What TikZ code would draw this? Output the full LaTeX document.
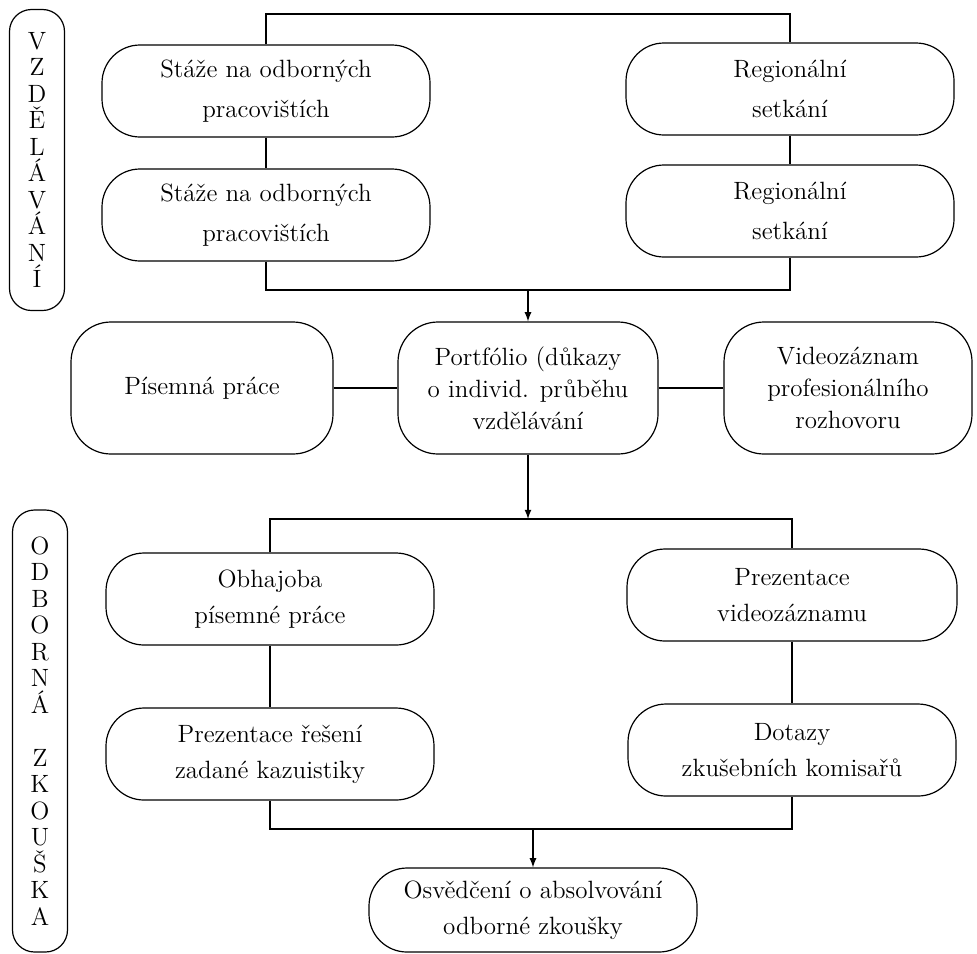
\documentclass[tikz,border=0pt]{standalone}
\usepackage{tikz}
\usetikzlibrary{arrows}

\begin{document}
\begin{tikzpicture}[x=0.5pt, y=-0.5pt, align=center, line width=0.6pt,
  font=\fontsize{12.5}{18}\selectfont,
  box/.style={draw, rounded corners=19pt, inner sep=0pt, minimum width=164pt, minimum height=46pt},
  topbox/.style={box, font=\fontsize{12.5}{20}\selectfont},
  bigbox/.style={draw, rounded corners=20pt, inner sep=0pt, minimum height=66pt, font=\fontsize{12.5}{16}\selectfont},
  sidebox/.style={draw, rounded corners=11pt, inner sep=0pt, minimum width=27.5pt, font=\fontsize{12.5}{13.25}\selectfont}]

\useasboundingbox (0,0) rectangle (977,953);

\path (37,160) node[sidebox, minimum height=150.5pt] (vzd) {V\\Z\\D\\Ě\\L\\Á\\V\\Á\\N\\Í}
      (40,731) node[sidebox, minimum height=221pt] (odb) {O\\D\\B\\O\\R\\N\\Á\\[13.25pt]Z\\K\\O\\U\\Š\\K\\A}

      (266,91) node[topbox] (st1) {Stáže na odborných\\pracovištích}
      (266,215) node[topbox] (st2) {Stáže na odborných\\pracovištích}
      (790,89) node[topbox] (reg1) {Regionální\\setkání}
      (790,211) node[topbox] (reg2) {Regionální\\setkání}

      (202,388) node[bigbox, minimum width=131pt] (pis) {Písemná práce}
      (528,388) node[bigbox, minimum width=130pt] (port) {Portfólio (důkazy\\o individ. průběhu\\vzdělávání}
      (848,388) node[bigbox, minimum width=124pt] (vid) {Videozáznam\\profesionálního\\rozhovoru}

      (270,599) node[box] (obh) {Obhajoba\\písemné práce}
      (270,754) node[box] (prez) {Prezentace řešení\\zadané kazuistiky}
      (792,595) node[box, minimum width=165pt] (pvid) {Prezentace\\videozáznamu}
      (792,750) node[box] (dot) {Dotazy\\zkušebních komisařů}

      (533,910) node[box, minimum height=42pt] (osv) {Osvědčení o absolvování\\odborné zkoušky};

\coordinate (top) at (528,14);
\coordinate (j1) at (528,290);
\coordinate (j2) at (528,519);
\coordinate (j3) at (533,829);

\draw (st1.north) |- (top) -| (reg1.north);
\draw (st1) to (st2);
\draw (reg1) to (reg2);
\draw (st2.south) |- (j1) -| (reg2.south);
\draw[-latex] (j1) to (port);

\draw (pis) to (port);
\draw (port) to (vid);
\draw[-latex] (port) to (j2);

\draw (obh.north) |- (j2) -| (pvid.north);
\draw (obh) to (prez);
\draw (pvid) to (dot);
\draw (prez.south) |- (j3) -| (dot.south);
\draw[-latex] (j3) to (osv);

\end{tikzpicture}
\end{document}
